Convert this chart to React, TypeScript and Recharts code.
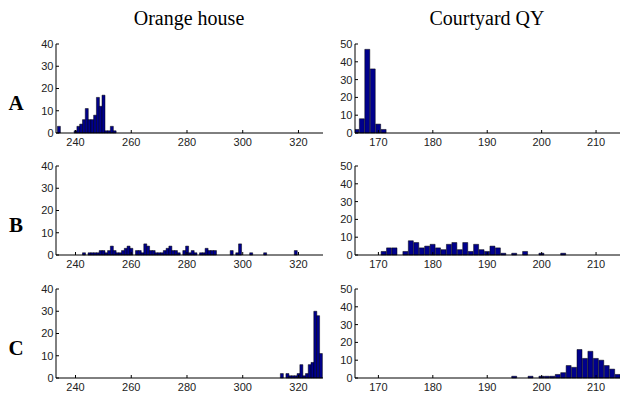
import { Bar, BarChart, XAxis, YAxis } from "recharts";

const columnTitles = ["Orange house", "Courtyard QY"];
const rowLabels = ["A", "B", "C"];

const orangeTicks = [240, 260, 280, 300, 320];
const courtyardTicks = [170, 180, 190, 200, 210];
const orangeCountTicks = [0, 10, 20, 30, 40];
const courtyardCountTicks = [0, 10, 20, 30, 40, 50];

// [bin, count] pairs
const orangeA = [
  [234, 3], [240, 1], [241, 3], [242, 4], [243, 6], [244, 11], [245, 6], [246, 6],
  [247, 8], [248, 16], [249, 12], [250, 17], [251, 1], [252, 1], [253, 3], [254, 1],
];
const orangeB = [
  [243, 1], [245, 1], [246, 1], [247, 1], [248, 1], [249, 2], [250, 2], [251, 1],
  [252, 2], [253, 4], [254, 2], [255, 1], [256, 1], [257, 2], [258, 3], [259, 4],
  [260, 3], [262, 2], [263, 2], [264, 1], [265, 5], [266, 4], [267, 2], [268, 2],
  [269, 1], [270, 1], [271, 1], [272, 2], [273, 3], [274, 4], [275, 2], [276, 2],
  [277, 1], [279, 2], [280, 4], [281, 1], [282, 2], [283, 1], [285, 1], [286, 1],
  [287, 3], [288, 2], [289, 2], [290, 2], [296, 2], [298, 1], [299, 5], [303, 1],
  [308, 1], [319, 2],
];
const orangeC = [
  [314, 2], [316, 2], [317, 1], [318, 1], [319, 1], [320, 2], [321, 6], [322, 1],
  [323, 2], [324, 6], [325, 7], [326, 30], [327, 28], [328, 11],
];
const courtyardA = [[166, 2], [167, 8], [168, 47], [169, 36], [170, 5], [171, 2]];
const courtyardB = [
  [171, 2], [172, 4], [173, 4], [175, 2], [176, 8], [177, 7], [178, 4], [179, 5],
  [180, 6], [181, 4], [182, 3], [183, 6], [184, 7], [185, 3], [186, 7], [187, 2],
  [188, 6], [189, 3], [190, 2], [191, 5], [192, 4], [193, 1], [195, 1], [197, 2],
  [200, 1], [204, 1],
];
const courtyardC = [
  [195, 1], [198, 1], [200, 1], [201, 1], [202, 1], [203, 2], [204, 3], [205, 7],
  [206, 6], [207, 16], [208, 11], [209, 15], [210, 11], [211, 10], [212, 7], [213, 5],
  [214, 2],
];

const toRows = (pairs: number[][]) => pairs.map(([bin, count]) => ({ bin, count }));

const tickStyle = { fontFamily: "Liberation Sans, Arial, sans-serif", fontSize: 11, fill: "#222" };
const PLOT_H = 89;
const rowTops = [44, 166, 289];

type PanelProps = {
  data: number[][];
  left: number;
  top: number;
  plotW: number;
  xDomain: [number, number];
  xTicks: number[];
  yTicks: number[];
};

function Panel({ data, left, top, plotW, xDomain, xTicks, yTicks }: PanelProps) {
  return (
    <div style={{ position: "absolute", left: left - 30, top: top - 5 }}>
      <BarChart
        width={30 + plotW}
        height={5 + PLOT_H + 22}
        data={toRows(data)}
        margin={{ top: 5, right: 0, bottom: 0, left: 0 }}
        barCategoryGap={0}
        barGap={0}
      >
        <XAxis
          dataKey="bin"
          type="number"
          domain={xDomain}
          allowDataOverflow
          ticks={xTicks}
          interval={0}
          height={22}
          tickSize={-3}
          tickMargin={8}
          tick={tickStyle}
          axisLine={{ stroke: "#000" }}
          tickLine={{ stroke: "#000" }}
        />
        <YAxis
          type="number"
          domain={[0, yTicks[yTicks.length - 1]]}
          ticks={yTicks}
          interval={0}
          width={30}
          tickSize={-3}
          tickMargin={5.5}
          tick={tickStyle}
          axisLine={{ stroke: "#000" }}
          tickLine={{ stroke: "#000" }}
        />
        <Bar dataKey="count" fill="#00008c" stroke="#000" strokeWidth={0.5} isAnimationActive={false} />
      </BarChart>
    </div>
  );
}

export default function App() {
  const orangeData = [orangeA, orangeB, orangeC];
  const courtyardData = [courtyardA, courtyardB, courtyardC];
  return (
    <div style={{ position: "absolute", left: 0, top: 0, width: 620, height: 395, background: "#fff" }}>
      <svg width={620} height={395} style={{ position: "absolute", left: 0, top: 0 }}>
        <text x={189} y={25} textAnchor="middle" fontFamily="Liberation Serif, Times New Roman, serif" fontSize={20}>
          {columnTitles[0]}
        </text>
        <text x={487} y={25} textAnchor="middle" fontFamily="Liberation Serif, Times New Roman, serif" fontSize={20}>
          {columnTitles[1]}
        </text>
        {rowLabels.map((r, i) => (
          <text
            key={r}
            x={16}
            y={rowTops[i] + 66}
            textAnchor="middle"
            fontFamily="Liberation Serif, Times New Roman, serif"
            fontWeight="bold"
            fontSize={21}
          >
            {r}
          </text>
        ))}
      </svg>
      {rowTops.map((t, i) => (
        <Panel
          key={"o" + i}
          data={orangeData[i]}
          left={56}
          top={t}
          plotW={267}
          xDomain={[233, 328.8]}
          xTicks={orangeTicks}
          yTicks={orangeCountTicks}
        />
      ))}
      {rowTops.map((t, i) => (
        <Panel
          key={"c" + i}
          data={courtyardData[i]}
          left={355}
          top={t}
          plotW={265}
          xDomain={[165.7, 214.4]}
          xTicks={courtyardTicks}
          yTicks={courtyardCountTicks}
        />
      ))}
    </div>
  );
}
